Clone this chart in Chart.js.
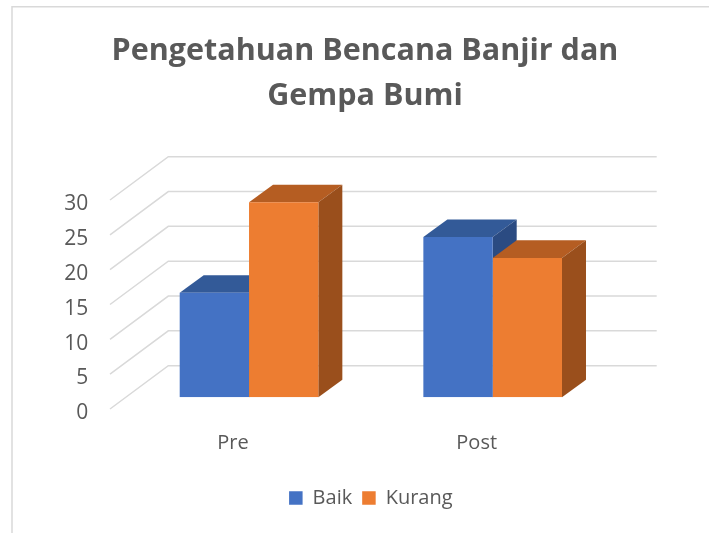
<!DOCTYPE html>
<html>
<head>
<meta charset="utf-8">
<script src="https://cdn.jsdelivr.net/npm/chart.js@4"></script>
<style>
  html, body { margin: 0; padding: 0; background: #ffffff; }
  #wrap { width: 709px; height: 533px; }
</style>
</head>
<body>
<div id="wrap"><canvas id="c" width="709" height="533"></canvas></div>
<script>
// ---- data ----
const categories = ['Pre', 'Post'];
const seriesNames = ['Baik', 'Kurang'];
const baikValues = [15, 23];
const kurangValues = [28, 20];
const yTickMin = 0;
const yTickMax = 30;
const yTickStep = 5;
const titleLines = ['Pengetahuan Bencana Banjir dan', 'Gempa Bumi'];

// ---- styles ----
const frontColors = ['#4472C4', '#ED7D31'];
const topColors = ['#335A98', '#B55D22'];
const sideColors = ['#2B4B82', '#9A4F1C'];
const textColor = '#595959';
const gridColor = '#D9D9D9';

const threeD = {
  id: 'threeD',
  beforeDraw(chart) {
    const ctx = chart.ctx;
    ctx.save();
    ctx.strokeStyle = gridColor;
    ctx.lineWidth = 1.5;
    ctx.beginPath();
    ctx.moveTo(12, 533);
    ctx.lineTo(12, 6.75);
    ctx.lineTo(709, 6.75);
    ctx.stroke();
    ctx.restore();
  },
  beforeDatasetsDraw(chart) {
    const ctx = chart.ctx;
    const a = chart.chartArea;
    const y = chart.scales.y;
    ctx.save();
    // 3D gridlines: front diagonal + back wall
    ctx.strokeStyle = gridColor;
    ctx.lineWidth = 1.5;
    for (let v = yTickMin; v <= yTickMax; v += yTickStep) {
      const p = y.getPixelForValue(v);
      ctx.beginPath();
      ctx.moveTo(a.left - 17.2, p + 11.7);
      ctx.lineTo(a.left + 41.1, p - 31.6);
      ctx.lineTo(a.right + 42.2, p - 31.6);
      ctx.stroke();
    }
    // bar tops and sides (fronts drawn by Chart.js afterwards)
    const dx = 24, dy = -17.6;
    const n = chart.data.labels.length;
    for (let i = 0; i < n; i++) {
      chart.data.datasets.forEach((ds, di) => {
        const bar = chart.getDatasetMeta(di).data[i];
        const pr = bar.getProps(['x', 'y', 'base', 'width'], true);
        const x0 = pr.x - pr.width / 2, x1 = pr.x + pr.width / 2;
        const t = pr.y, b = pr.base;
        ctx.fillStyle = topColors[di];
        ctx.beginPath();
        ctx.moveTo(x0, t);
        ctx.lineTo(x1, t);
        ctx.lineTo(x1 + dx, t + dy);
        ctx.lineTo(x0 + dx, t + dy);
        ctx.closePath();
        ctx.fill();
        ctx.fillStyle = sideColors[di];
        ctx.beginPath();
        ctx.moveTo(x1, t);
        ctx.lineTo(x1 + dx, t + dy);
        ctx.lineTo(x1 + dx, b + dy);
        ctx.lineTo(x1, b);
        ctx.closePath();
        ctx.fill();
      });
    }
    ctx.restore();
  }
};

new Chart(document.getElementById('c'), {
  type: 'bar',
  data: {
    labels: categories,
    datasets: [
      { label: seriesNames[0], data: baikValues, backgroundColor: frontColors[0], borderWidth: 0, yAxisID: 'y' },
      { label: seriesNames[1], data: kurangValues, backgroundColor: frontColors[1], borderWidth: 0, yAxisID: 'y' }
    ]
  },
  options: {
    responsive: false,
    animation: false,
    devicePixelRatio: 1,
    categoryPercentage: 0.569,
    barPercentage: 1.0,
    layout: { padding: { left: 21, right: 0, top: 0, bottom: 15 } },
    plugins: {
      tooltip: { enabled: false },
      title: {
        display: true,
        text: titleLines,
        color: textColor,
        font: { family: "'Open Sans', sans-serif", size: 30.5, weight: 'bold', lineHeight: 45 / 30.5 },
        padding: { top: 28.5, bottom: 69.8 }
      },
      legend: {
        display: true,
        position: 'bottom',
        fullSize: false,
        labels: {
          color: textColor,
          font: { family: "'Open Sans', sans-serif", size: 20 },
          boxWidth: 13.5,
          boxHeight: 13.5,
          padding: 10
        }
      }
    },
    scales: {
      x: {
        grid: { display: false, drawTicks: false },
        border: { display: false },
        ticks: {
          color: textColor,
          font: { family: "'Open Sans', sans-serif", size: 20 },
          padding: 33.7,
          labelOffset: -16
        },
        afterFit(s) { s.height = 80.7; }
      },
      y: {
        position: 'left',
        min: yTickMin,
        max: yTickMax,
        grid: { display: false, drawTicks: false },
        border: { display: false },
        ticks: {
          stepSize: yTickStep,
          color: textColor,
          font: { family: "'Open Sans', sans-serif", size: 21 },
          padding: 39,
          labelOffset: 16
        },
        afterFit(s) { s.width = 106.2; }
      },
      y2: {
        type: 'linear',
        position: 'right',
        display: true,
        grid: { display: false, drawTicks: false },
        border: { display: false },
        ticks: { display: false },
        afterFit(s) { s.width = 94.5; }
      }
    }
  },
  plugins: [threeD]
});
</script>
</body>
</html>
